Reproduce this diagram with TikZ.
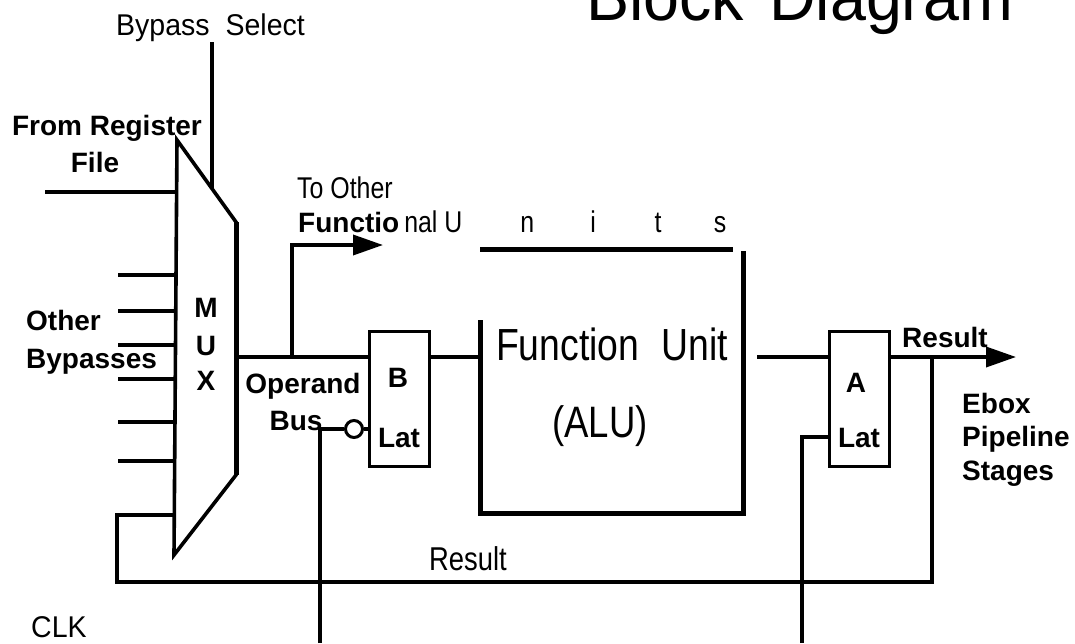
\documentclass[tikz,border=0pt]{standalone}
\usepackage{fontspec}
\setmainfont{Liberation Sans}
\newfontfamily\nfw[FakeStretch=0.95]{Liberation Sans}
\newfontfamily\nfn[FakeStretch=0.83]{Liberation Sans}
\newfontfamily\bff{Liberation Sans}
\usetikzlibrary{arrows.meta}
\newcommand\fs[1]{\fontsize{#1pt}{#1pt}\selectfont}
\begin{document}
\begin{tikzpicture}[x=1pt,y=-1pt,
  wire/.style={line width=3.6pt},
  heavy/.style={line width=5pt},
  lbl/.style={inner sep=0pt, anchor=base},
  bl/.style={lbl, font=\bff\bfseries\fs{28}},
  nl/.style={lbl, font=\nfn\fs{30}},
  wl/.style={lbl, font=\nfw\fs{30}},
  latch/.style={draw, line width=3.4pt, minimum width=60pt, minimum height=135pt, inner sep=0pt, anchor=north west},
  arr/.style={-{Triangle[length=30pt,width=20pt]}}
]
\useasboundingbox (0,0) rectangle (1075,643);
\clip (0,0) rectangle (1075,643);

% ---------- texts ----------
\node[lbl, anchor=base west, font=\nfw\fs{68}] (title) at (586,20) {Block\hspace{25pt}Diagram};
\node[wl, anchor=base west] (bsel) at (116,35) {Bypass\hspace{16pt}Select};
\node[bl] (frf1) at (107,135) {From Register};
\node[bl] (frf2) at (95,172) {File};
\node[bl, anchor=base west] (ob1) at (26,330) {Other};
\node[bl, anchor=base west] (ob2) at (26,368) {Bypasses};
\node[bl] (mm) at (206,317) {M};
\node[bl] (mu) at (206,355) {U};
\node[bl] (mx) at (206,390) {X};
\node[nl, anchor=base west] (toth) at (297,198) {To Other};
\node[lbl, anchor=base west] (funits) at (298,232)
  {\rlap{{\bff\bfseries\fs{28}Functio}\hspace{5pt}{\nfn\fs{30}nal U}}\hspace{196pt}{\nfn\fs{30}\makebox[66pt]{n}\makebox[66pt]{i}\makebox[64pt]{t}\makebox[60pt]{s}}};
\node[bl] (opd) at (303,393) {Operand};
\node[bl] (bus) at (296,430) {Bus};
\node[lbl, font=\nfn\fs{45}] (fu1) at (612,360) {Function\hspace{22pt}Unit};
\node[lbl, font=\nfn\fs{44}] (alu) at (600,437) {(ALU)};
\node[lbl, font=\nfn\fs{33}] (res2) at (468,570) {Result};
\node[bl] (res1) at (945,347) {Result};
\node[bl, anchor=base west] (eb1) at (962,413) {Ebox};
\node[bl, anchor=base west] (eb2) at (962,446) {Pipeline};
\node[bl, anchor=base west] (eb3) at (962,480) {Stages};
\node[wl, anchor=base west] (clk) at (31,637) {CLK};

% ---------- latches ----------
\node[latch] (blat) at (368,330) {};
\node[bl] (bB) at (398,387) {B};
\node[bl] (bL) at (399,447) {Lat};
\node[latch] (alat) at (828,330) {};
\node[bl] (aA) at (856,392) {A};
\node[bl] (aL) at (859,447) {Lat};
\node[draw, circle, line width=3pt, minimum size=17pt, inner sep=0pt] (inv) at (354,429) {};

% ---------- MUX ----------
\coordinate (m1) at (177,140);
\coordinate (m2) at (236,222);
\coordinate (m3) at (236,475);
\coordinate (m4) at (174,555);
\draw[wire, line join=miter] (m1) -- (m2) -- (m3) -- (m4) -- cycle;
\draw[heavy] (m2) -- (m3);

% ---------- function unit (open box) ----------
\coordinate (ft1) at (480,249);
\coordinate (ft2) at (733,249);
\coordinate (fr1) at (743,251);
\coordinate (fr2) at (743,516);
\coordinate (fb1) at (478,513);
\coordinate (fb2) at (745,513);
\coordinate (fl1) at (480,320);
\coordinate (fl2) at (480,516);
\coordinate (fin) at (480,357);
\draw[heavy] (ft1) -- (ft2);
\draw[heavy] (fr1) -- (fr2);
\draw[heavy] (fb1) -- (fb2);
\draw[heavy] (fl1) -- (fl2);

% ---------- wires ----------
\coordinate (bs0) at (212,42);
\coordinate (bs1) at (212,188);
\draw[wire] (bs0) -- (bs1);
\coordinate (rf) at (45,192);
\draw[wire] (rf) -- (176,192);
\foreach \yy in {275,311,345,379,422,461} {\draw[wire] (118,\yy) -- (176,\yy);}
\coordinate (fbk) at (176,515);
\coordinate (junc) at (932,357);
\draw[wire] (fbk) -- (117,515) -- (117,582) -- (932,582) -- (junc);
\coordinate (mout) at (236,357);
\coordinate (bin) at (368,357);
\coordinate (br) at (292,357);
\draw[wire] (mout) -- (bin);
\coordinate (tofu) at (383,245);
\draw[wire, arr] (br) -- (292,245) -- (tofu);
\coordinate (bout) at (428,357);
\draw[wire] (bout) -- (fin);
\coordinate (fout) at (757,357);
\coordinate (ain) at (828,357);
\draw[wire] (fout) -- (ain);
\coordinate (aout) at (888,357);
\coordinate (ebox) at (1016,357);
\draw[wire, arr] (aout) -- (ebox);
\coordinate (clkb) at (320,643);
\draw[wire] (clkb) -- (320,429) -- (inv.west);
\draw[wire] (inv.east) -- (368,429);
\coordinate (clka) at (802,643);
\draw[wire] (clka) -- (802,437) -- (828,437);
\end{tikzpicture}
\end{document}
